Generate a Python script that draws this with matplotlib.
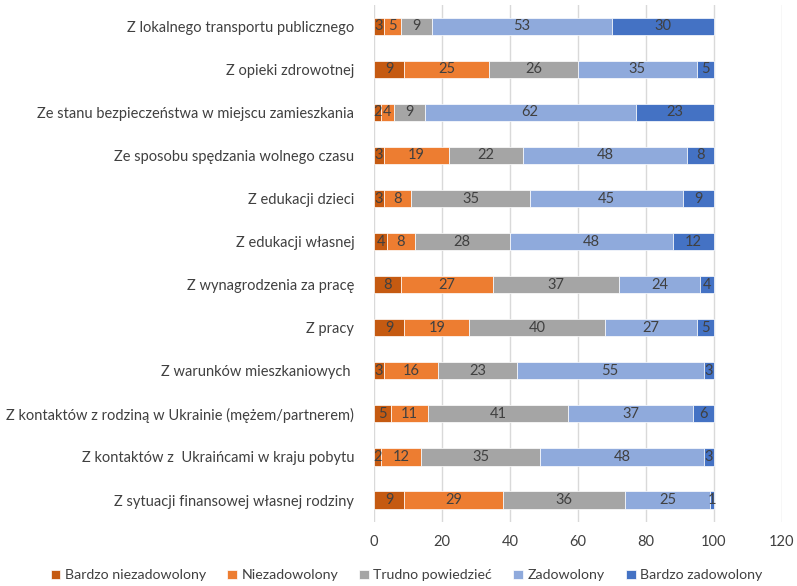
import numpy as np
import matplotlib
matplotlib.use("Agg")
import matplotlib.pyplot as plt

plt.rcParams['font.family'] = ['Lato', 'DejaVu Sans']

categories = [
    "Z lokalnego transportu publicznego",
    "Z opieki zdrowotnej",
    "Ze stanu bezpieczeństwa w miejscu zamieszkania",
    "Ze sposobu spędzania wolnego czasu",
    "Z edukacji dzieci",
    "Z edukacji własnej",
    "Z wynagrodzenia za pracę",
    "Z pracy",
    "Z warunków mieszkaniowych ",
    "Z kontaktów z rodziną w Ukrainie (mężem/partnerem)",
    "Z kontaktów z  Ukraińcami w kraju pobytu",
    "Z sytuacji finansowej własnej rodziny",
]

series_names = ["Bardzo niezadowolony", "Niezadowolony", "Trudno powiedzieć",
                "Zadowolony", "Bardzo zadowolony"]

bardzo_niezadowolony = [3, 9, 2, 3, 3, 4, 8, 9, 3, 5, 2, 9]
niezadowolony = [5, 25, 4, 19, 8, 8, 27, 19, 16, 11, 12, 29]
trudno_powiedziec = [9, 26, 9, 22, 35, 28, 37, 40, 23, 41, 35, 36]
zadowolony = [53, 35, 62, 48, 45, 48, 24, 27, 55, 37, 48, 25]
bardzo_zadowolony = [30, 5, 23, 8, 9, 12, 4, 5, 3, 6, 3, 1]

colors = ["#C55A11", "#ED7D31", "#A5A5A5", "#8FAADC", "#4472C4"]
text_color = "#404040"

data = [bardzo_niezadowolony, niezadowolony, trudno_powiedziec,
        zadowolony, bardzo_zadowolony]

fig = plt.figure(figsize=(7.97, 5.86), dpi=100)
ax = fig.add_axes([0.469, 0.110, 0.512, 0.882])

y = np.arange(len(categories))
left = np.zeros(len(categories))
for vals, name, col in zip(data, series_names, colors):
    vals = np.array(vals, dtype=float)
    bars = ax.barh(y, vals, left=left, height=0.4, color=col, label=name,
                   edgecolor="white", linewidth=0.5, zorder=3)
    for b, v in zip(bars, vals):
        ax.text(b.get_x() + b.get_width() / 2, b.get_y() + b.get_height() / 2,
                "%d" % v, ha="center", va="center", fontsize=10.5,
                color=text_color, zorder=4)
    left += vals

ax.set_xlim(0, 120)
ax.set_ylim(len(categories) - 0.5, -0.5)
ax.set_xticks(range(0, 121, 20))
ax.set_yticks(y)
ax.set_yticklabels(categories)
ax.tick_params(axis="both", length=0, labelsize=10.5, labelcolor=text_color)
ax.tick_params(axis="y", pad=14)
ax.tick_params(axis="x", pad=10)
ax.grid(axis="x", color="#D9D9D9", linewidth=1, zorder=0)
for s in ax.spines.values():
    s.set_visible(False)

fig.legend(loc="center", bbox_to_anchor=(0.51, 0.018), ncol=5, frameon=False,
           fontsize=10.2, handlelength=0.7, handleheight=0.7, handletextpad=0.3,
           columnspacing=1.5, labelcolor=text_color)

fig.savefig("out.png", dpi=100)
